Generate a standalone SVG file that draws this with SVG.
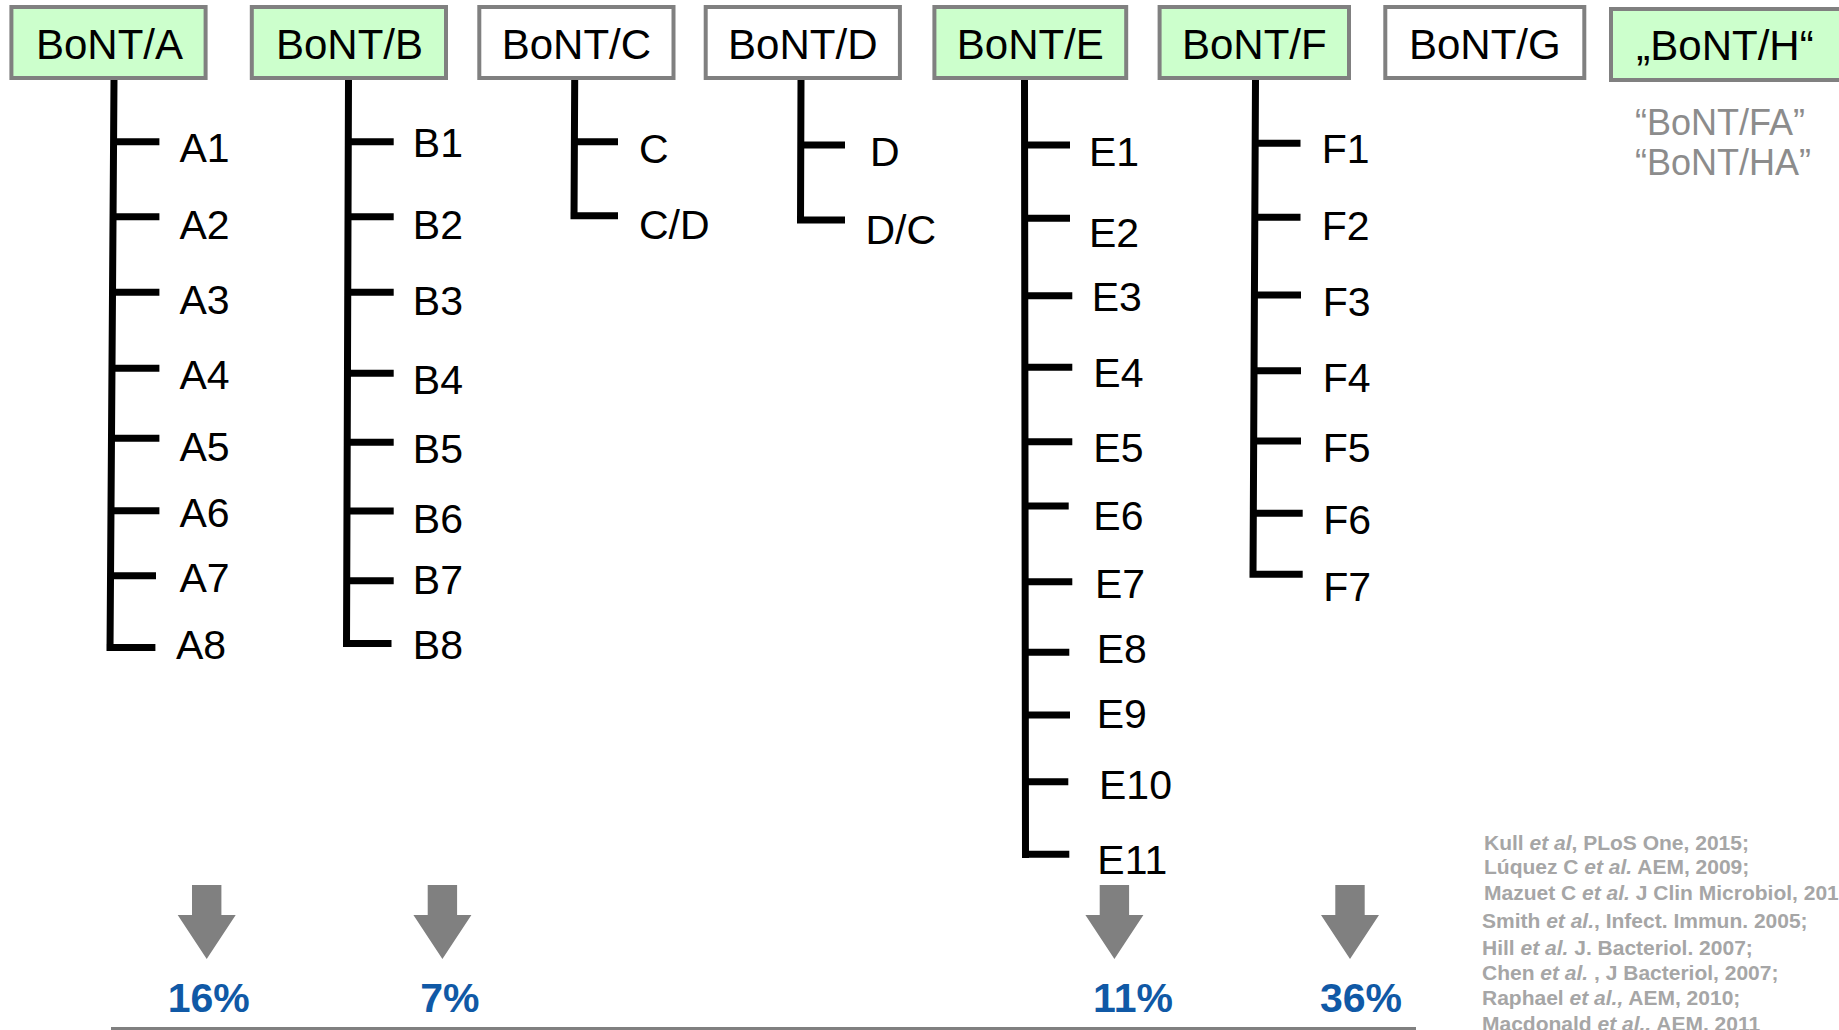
<svg xmlns="http://www.w3.org/2000/svg" width="1839" height="1030" viewBox="0 0 1839 1030">
<style>
.box{stroke:#808080;stroke-width:4}
.g{fill:#ccffcc}
.w{fill:#ffffff}
.bt{font-family:"Liberation Sans",Arial,sans-serif;font-size:42px;fill:#000;text-anchor:middle}
.lb{font-family:"Liberation Sans",Arial,sans-serif;font-size:41px;fill:#000}
.alt{font-family:"Liberation Sans",Arial,sans-serif;font-size:36px;fill:#8c8c8c}
.tree{fill:none;stroke:#000;stroke-width:7;stroke-linecap:butt;stroke-linejoin:miter}
.pct{font-family:"Liberation Sans",Arial,sans-serif;font-size:41px;font-weight:bold;fill:#1059a6;text-anchor:middle}
.ref{font-family:"Liberation Sans",Arial,sans-serif;font-size:21px;font-weight:bold;fill:#a6a6a6}
.ref tspan.i{font-style:italic}
</style>
<defs>
<path id="arr" d="M-14.7,885 H14.7 V915 H29 L0,959 L-29,915 H-14.7 Z" fill="#808080"/>
</defs>
<rect width="1839" height="1030" fill="#ffffff"/>

<g id="connectors">
<path class="tree" d="M114,80 L110,651 M112,141.7 H159.4 M112,216.7 H159.4 M112,292.3 H159.4 M112,368.3 H159.4 M111,438.3 H159.4 M111,510.7 H159.4 M110,575.7 H156 M106.5,647.5 H155.4"/>
<path class="tree" d="M348.5,80 L346.5,647 M348,141.7 H393.7 M348,216.7 H393.7 M348,292.3 H393.7 M348,373.3 H393.7 M347,442.3 H393.7 M347,511 H393.7 M347,580.7 H393.7 M343,643.5 H391.5"/>
<path class="tree" d="M574.7,80 L574,219.3 M574,141.7 H618 M570.5,215.8 H618"/>
<path class="tree" d="M801,80 L800.5,223.5 M801,145 H845 M797,220 H845"/>
<path class="tree" d="M1024.5,80 L1025.5,858 M1025,145 H1070 M1025,218.3 H1070 M1025,295.7 H1072.3 M1025,367.3 H1072.3 M1025,441.7 H1072.3 M1025,506 H1068.7 M1025,581.7 H1072.3 M1025,652.3 H1069.3 M1025,715 H1070 M1025,781.7 H1068.3 M1022,854.3 H1069.3"/>
<path class="tree" d="M1255.5,80 L1253,577.8 M1255,143.3 H1300.5 M1255,217.3 H1300.5 M1255,295 H1301 M1254,370.7 H1301 M1254,441 H1301 M1254,513.3 H1302.7 M1249.5,574.3 H1302.7"/>
</g>

<g id="bont-a">
<rect class="box g" x="11.4" y="7" width="194.2" height="71"/>
<text class="bt" x="109.5" y="58.5">BoNT/A</text>
<text class="lb" x="179.4" y="162">A1</text>
<text class="lb" x="179.4" y="238.5">A2</text>
<text class="lb" x="179.4" y="314">A3</text>
<text class="lb" x="179.4" y="389">A4</text>
<text class="lb" x="179.4" y="460.5">A5</text>
<text class="lb" x="179.4" y="526.5">A6</text>
<text class="lb" x="179.4" y="592">A7</text>
<text class="lb" x="176" y="659">A8</text>
</g>

<g id="bont-b">
<rect class="box g" x="251.8" y="7" width="194.2" height="71"/>
<text class="bt" x="349.5" y="58.5">BoNT/B</text>
<text class="lb" x="412.8" y="156.5">B1</text>
<text class="lb" x="412.8" y="239">B2</text>
<text class="lb" x="412.8" y="315">B3</text>
<text class="lb" x="412.8" y="394">B4</text>
<text class="lb" x="412.8" y="463">B5</text>
<text class="lb" x="412.8" y="532.5">B6</text>
<text class="lb" x="412.8" y="594">B7</text>
<text class="lb" x="412.8" y="658.5">B8</text>
</g>

<g id="bont-c">
<rect class="box w" x="479.3" y="7" width="194.2" height="71"/>
<text class="bt" x="576.4" y="58.5">BoNT/C</text>
<text class="lb" x="639" y="163">C</text>
<text class="lb" x="639" y="238.5">C/D</text>
</g>

<g id="bont-d">
<rect class="box w" x="705.7" y="7" width="194.2" height="71"/>
<text class="bt" x="802.8" y="58.5">BoNT/D</text>
<text class="lb" x="870" y="165.5">D</text>
<text class="lb" x="865.5" y="244">D/C</text>
</g>

<g id="bont-e">
<rect class="box g" x="934.4" y="7" width="191.8" height="71"/>
<text class="bt" x="1030.3" y="58.5">BoNT/E</text>
<text class="lb" x="1089" y="165.5">E1</text>
<text class="lb" x="1089" y="246.5">E2</text>
<text class="lb" x="1091.7" y="310.7">E3</text>
<text class="lb" x="1093.3" y="386.7">E4</text>
<text class="lb" x="1093.3" y="462.3">E5</text>
<text class="lb" x="1093.3" y="530">E6</text>
<text class="lb" x="1095" y="598.3">E7</text>
<text class="lb" x="1096.7" y="663.3">E8</text>
<text class="lb" x="1096.7" y="728.3">E9</text>
<text class="lb" x="1099" y="799.3">E10</text>
<text class="lb" x="1097.3" y="873.5">E11</text>
</g>

<g id="bont-f">
<rect class="box g" x="1159.6" y="7" width="189.4" height="71"/>
<text class="bt" x="1254.3" y="58.5">BoNT/F</text>
<text class="lb" x="1321.7" y="163">F1</text>
<text class="lb" x="1321.7" y="240.4">F2</text>
<text class="lb" x="1322.7" y="315.7">F3</text>
<text class="lb" x="1322.7" y="391.7">F4</text>
<text class="lb" x="1322.7" y="461.7">F5</text>
<text class="lb" x="1323.3" y="534">F6</text>
<text class="lb" x="1323.3" y="601">F7</text>
</g>

<g id="bont-g">
<rect class="box w" x="1385.3" y="7" width="199" height="71"/>
<text class="bt" x="1484.8" y="58.5">BoNT/G</text>
</g>

<g id="bont-h">
<rect class="box g" x="1611" y="9" width="240" height="71"/>
<text class="bt" x="1725" y="60">„BoNT/H“</text>
<text class="alt" x="1635" y="135">“BoNT/FA”</text>
<text class="alt" x="1635" y="175">“BoNT/HA”</text>
</g>

<g id="arrows">
<use href="#arr" x="206.7"/>
<use href="#arr" x="442.4"/>
<use href="#arr" x="1114.4"/>
<use href="#arr" x="1350"/>
</g>

<g id="percentages">
<text class="pct" x="208.7" y="1012">16%</text>
<text class="pct" x="449.8" y="1012">7%</text>
<text class="pct" x="1133" y="1012">11%</text>
<text class="pct" x="1361" y="1012">36%</text>
</g>

<line x1="111" y1="1028.5" x2="1416" y2="1028.5" stroke="#808080" stroke-width="3"/>

<g id="references" class="ref">
<text x="1484" y="850">Kull <tspan class="i">et al</tspan>, PLoS One, 2015;</text>
<text x="1484" y="874">Lúquez C <tspan class="i">et al.</tspan> AEM, 2009;</text>
<text x="1484" y="900">Mazuet C <tspan class="i">et al.</tspan> J Clin Microbiol, 201</text>
<text x="1482" y="928">Smith <tspan class="i">et al.</tspan>, Infect. Immun. 2005;</text>
<text x="1482" y="955">Hill <tspan class="i">et al.</tspan> J. Bacteriol. 2007;</text>
<text x="1482" y="980">Chen <tspan class="i">et al.</tspan> , J Bacteriol, 2007;</text>
<text x="1482" y="1005">Raphael <tspan class="i">et al.,</tspan> AEM, 2010;</text>
<text x="1482" y="1031">Macdonald <tspan class="i">et al.,</tspan> AEM, 2011</text>
</g>
</svg>
